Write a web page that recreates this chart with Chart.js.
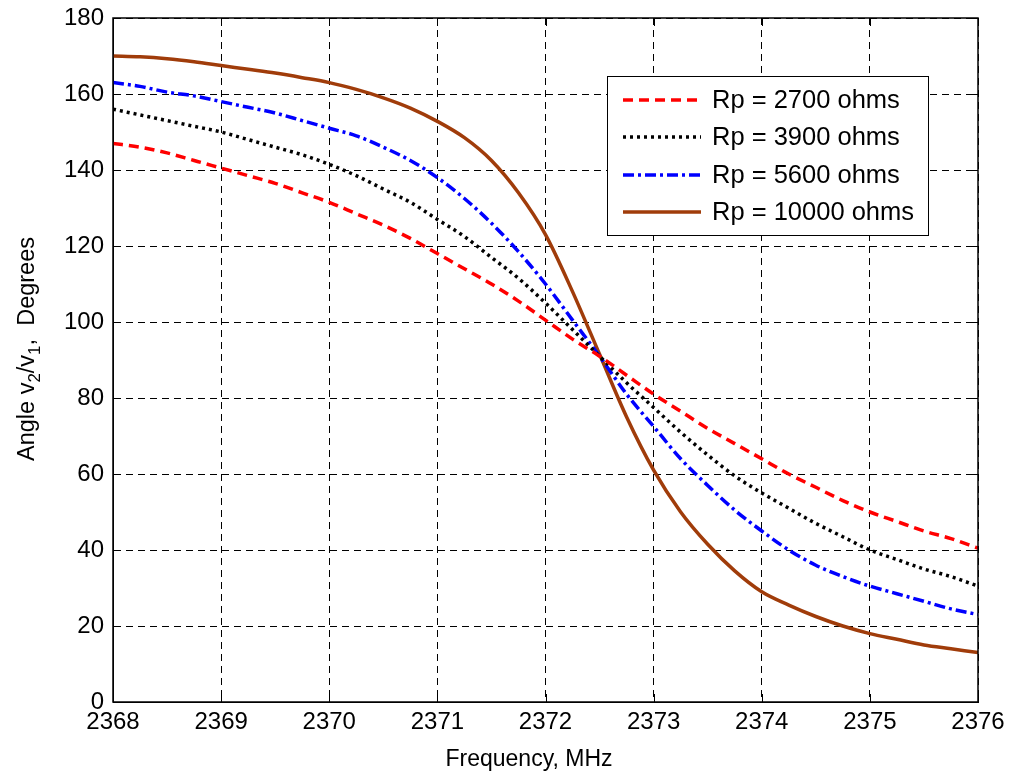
<!DOCTYPE html>
<html>
<head>
<meta charset="utf-8">
<script src="https://cdn.jsdelivr.net/npm/chart.js@4"></script>
<style>
  body { margin: 0; background: #fff; }
  canvas { display: block; }
</style>
</head>
<body>
<canvas id="phaseChart" width="1011" height="775"></canvas>
<script>
// 주파수 (MHz)
const freq = [
  2368, 2368.25, 2368.5, 2368.75, 2369, 2369.25, 2369.5, 2369.75,
  2370, 2370.25, 2370.5, 2370.75, 2371, 2371.25, 2371.5, 2371.75,
  2372, 2372.25, 2372.5, 2372.75, 2373, 2373.25, 2373.5, 2373.75,
  2374, 2374.25, 2374.5, 2374.75, 2375, 2375.25, 2375.5, 2375.75, 2376
];

// 위상각 (deg)
const rp2700 = [
  147, 146, 144.5, 142.5, 140.5, 138.5, 136.5, 134,
  131.5, 128.5, 125.5, 122, 118, 114, 110, 105.5,
  100.5, 95.5, 91, 86, 81, 76.5, 72, 68,
  64, 60, 56.5, 53, 50, 47.5, 45, 43, 40.5
];
const rp3900 = [
  156, 154.5, 153, 151.5, 150, 148, 146, 144,
  141.5, 138.5, 135, 131.5, 127, 122.5, 117, 111.5,
  105, 98, 91, 84, 77.5, 71, 65, 59.5,
  55, 51, 47, 43.5, 40, 37.5, 35, 33, 30.5
];
const rp5600 = [
  163, 162, 160.5, 159.5, 158, 156.5, 155, 153,
  151, 149, 146, 142.5, 138, 132.5, 126, 118.5,
  110, 100.5, 91, 81, 72.5, 64, 57, 50.5,
  45, 40, 36, 33, 30.5, 28.5, 26.5, 24.5, 23
];
const rp10000 = [
  170, 169.8, 169.3, 168.5, 167.5, 166.5, 165.5, 164.3,
  163, 161.2, 159, 156.3, 152.8, 148.5, 142.5, 134,
  123, 108, 91.5, 75, 61, 50, 41.5, 34.5,
  29, 25.5, 22.5, 20, 18, 16.5, 15, 14, 13
];

const seriesLabels = ["Rp = 2700 ohms", "Rp = 3900 ohms", "Rp = 5600 ohms", "Rp = 10000 ohms"];
const seriesColors = ["#ff0000", "#000000", "#0000ff", "#a03c0a"];
const seriesDash = [[10, 6], [3, 4], [11, 4, 3, 4], []];
const seriesValues = [rp2700, rp3900, rp5600, rp10000];

const FONT = "Liberation Sans, Arial, sans-serif";

function toPoints(ys) {
  return freq.map((f, i) => ({ x: f, y: ys[i] }));
}

// 범례, 바깥 테두리, 안쪽 눈금, 축 제목
const decorations = {
  id: "decorations",
  afterDatasetsDraw(chart) {
    const ctx = chart.ctx;
    const a = chart.chartArea;
    const xs = chart.scales.x;
    const ys = chart.scales.y;

    ctx.save();
    // 안쪽 눈금
    ctx.strokeStyle = "#000";
    ctx.lineWidth = 1;
    ctx.setLineDash([]);
    ctx.beginPath();
    xs.ticks.forEach((t) => {
      const px = Math.round(xs.getPixelForValue(t.value)) + 0.5;
      ctx.moveTo(px, a.bottom); ctx.lineTo(px, a.bottom - 8);
      ctx.moveTo(px, a.top); ctx.lineTo(px, a.top + 8);
    });
    ys.ticks.forEach((t) => {
      const py = Math.round(ys.getPixelForValue(t.value)) + 0.5;
      ctx.moveTo(a.left, py); ctx.lineTo(a.left + 8, py);
      ctx.moveTo(a.right, py); ctx.lineTo(a.right - 8, py);
    });
    ctx.stroke();

    // 테두리
    ctx.strokeStyle = "#000";
    ctx.lineWidth = 1.5;
    ctx.strokeRect(a.left, a.top, a.right - a.left, a.bottom - a.top);

    // 범례
    const bx = 607, by = 76, bw = 321, bh = 159;
    ctx.fillStyle = "#fff";
    ctx.fillRect(bx, by, bw, bh);
    ctx.lineWidth = 1;
    ctx.strokeRect(bx + 0.5, by + 0.5, bw, bh);
    const rows = [100, 137, 175, 212];
    ctx.font = "25.5px " + FONT;
    ctx.textBaseline = "middle";
    ctx.textAlign = "left";
    seriesLabels.forEach((label, i) => {
      ctx.strokeStyle = seriesColors[i];
      ctx.lineWidth = 3.5;
      ctx.setLineDash(seriesDash[i]);
      ctx.beginPath();
      ctx.moveTo(623, rows[i]);
      ctx.lineTo(701, rows[i]);
      ctx.stroke();
      ctx.setLineDash([]);
      ctx.fillStyle = "#000";
      ctx.fillText(label, 712, rows[i] + 1);
    });

    // x축 제목
    ctx.font = "23px " + FONT;
    ctx.textAlign = "center";
    ctx.textBaseline = "alphabetic";
    ctx.fillText("Frequency, MHz", 529, 766);

    // y축 제목 (아래첨자 포함)
    const parts = [
      { t: "Angle v", sub: false },
      { t: "2", sub: true },
      { t: "/v", sub: false },
      { t: "1", sub: true },
      { t: ",  Degrees", sub: false },
    ];
    const big = "23.5px " + FONT, small = "17px " + FONT;
    let total = 0;
    parts.forEach((p) => {
      ctx.font = p.sub ? small : big;
      p.w = ctx.measureText(p.t).width;
      total += p.w;
    });
    ctx.translate(34, 349);
    ctx.rotate(-Math.PI / 2);
    ctx.textAlign = "left";
    let cx = -total / 2;
    parts.forEach((p) => {
      ctx.font = p.sub ? small : big;
      ctx.fillText(p.t, cx, p.sub ? 6 : 0);
      cx += p.w;
    });
    ctx.restore();
  },
};

const ctx = document.getElementById("phaseChart").getContext("2d");
new Chart(ctx, {
  type: "line",
  data: {
    datasets: seriesValues.map((vals, i) => ({
      label: seriesLabels[i],
      data: toPoints(vals),
      borderColor: seriesColors[i],
      backgroundColor: seriesColors[i],
      borderWidth: 3.5,
      borderDash: seriesDash[i],
      pointRadius: 0,
      cubicInterpolationMode: "monotone",
      fill: false,
    })),
  },
  options: {
    responsive: false,
    animation: false,
    layout: { padding: { top: 18, right: 33, left: 0, bottom: 0 } },
    plugins: {
      legend: { display: false },
      tooltip: { enabled: false },
    },
    scales: {
      x: {
        type: "linear",
        min: 2368,
        max: 2376,
        ticks: {
          stepSize: 1,
          padding: 6,
          color: "#000",
          font: { family: FONT, size: 24 },
          maxRotation: 0,
          callback: (v) => String(v),
        },
        grid: { color: "#000", lineWidth: 1, drawTicks: false },
        border: { display: true, color: "#000", dash: [7, 5] },
        afterFit(scale) {
          scale.height = 73;
          scale.paddingLeft = 0;
          scale.paddingRight = 0;
        },
      },
      y: {
        min: 0,
        max: 180,
        ticks: {
          stepSize: 20,
          padding: 9,
          color: "#000",
          font: { family: FONT, size: 24 },
          callback: (v) => String(v),
        },
        grid: { color: "#000", lineWidth: 1, drawTicks: false },
        border: { display: true, color: "#000", dash: [7, 5] },
        afterFit(scale) {
          scale.width = 113;
          scale.paddingTop = 0;
          scale.paddingBottom = 0;
        },
      },
    },
  },
  plugins: [decorations],
});
</script>
</body>
</html>
